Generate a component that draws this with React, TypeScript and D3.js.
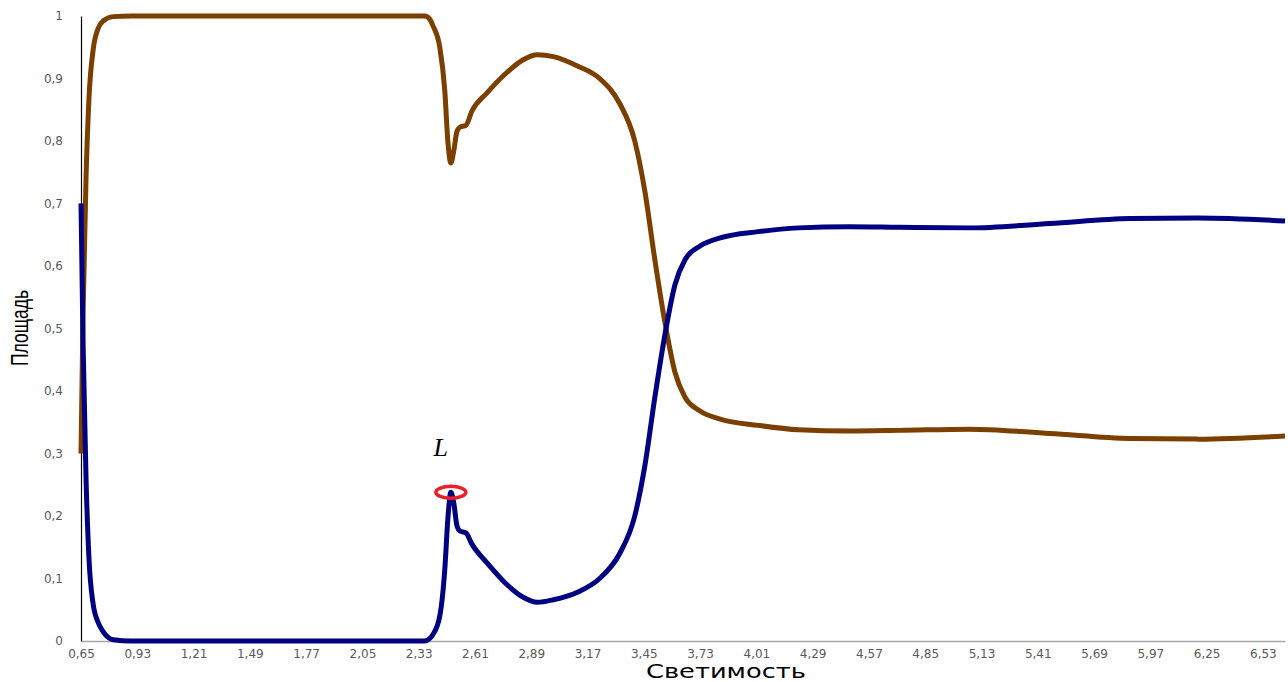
import * as d3 from "d3";
import React, { useEffect, useRef } from "react";

// luminosity values (x) shared by both series
const luminosity = [
  0.65, 0.66, 0.675, 0.69, 0.71, 0.735, 0.76, 0.81, 0.9, 1.5, 2.0, 2.36, 2.385, 2.4,
  2.435, 2.46, 2.475, 2.49, 2.505, 2.52, 2.535, 2.565, 2.595, 2.67, 2.77, 2.85, 2.92,
  3.0, 3.12, 3.23, 3.33, 3.405, 3.455, 3.505, 3.555, 3.605, 3.655, 3.73, 3.83, 4.02,
  4.22, 4.47, 4.72, 5.07, 5.47, 5.87, 6.21, 6.64,
];

const blueArea = [
  0.7, 0.48, 0.26, 0.13, 0.06, 0.03, 0.015, 0.002, 0, 0, 0, 0, 0.004, 0.01,
  0.04, 0.115, 0.195, 0.238, 0.22, 0.185, 0.176, 0.173, 0.155, 0.125, 0.09, 0.07, 0.062,
  0.066, 0.078, 0.1, 0.14, 0.2, 0.28, 0.39, 0.49, 0.57, 0.61, 0.632, 0.645, 0.655,
  0.661, 0.663, 0.662, 0.661, 0.668, 0.676, 0.677, 0.672,
];

const brownArea = [
  0.3, 0.52, 0.74, 0.87, 0.945, 0.98, 0.992, 0.999, 1, 1, 1, 1, 0.995, 0.985,
  0.95, 0.88, 0.8, 0.765, 0.785, 0.815, 0.822, 0.825, 0.848, 0.877, 0.91, 0.93, 0.938,
  0.935, 0.92, 0.9, 0.86, 0.8, 0.72, 0.61, 0.51, 0.43, 0.39, 0.368, 0.355, 0.345,
  0.338, 0.336, 0.337, 0.339, 0.332, 0.324, 0.323, 0.328,
];

const xTicks = [
  0.65, 0.93, 1.21, 1.49, 1.77, 2.05, 2.33, 2.61, 2.89, 3.17, 3.45, 3.73, 4.01, 4.29,
  4.57, 4.85, 5.13, 5.41, 5.69, 5.97, 6.25, 6.53,
];
const yTicks = [0, 0.1, 0.2, 0.3, 0.4, 0.5, 0.6, 0.7, 0.8, 0.9, 1];

// marked point L
const markL = { x: 2.49, y: 0.238, label: "L" };

const App = () => {
  const svgRef = useRef<SVGSVGElement | null>(null);

  useEffect(() => {
    const svg = d3.select(svgRef.current);
    svg.selectAll("*").remove();

    const x = d3.scaleLinear().domain([0.65, 6.64]).range([81, 1285]);
    const y = d3.scaleLinear().domain([0, 1]).range([641, 16]);

    const comma = (d) => String(d).replace(".", ",");

    // x axis
    const gx = svg
      .append("g")
      .attr("transform", "translate(0,641)")
      .call(d3.axisBottom(x).tickValues(xTicks).tickFormat(comma).tickSize(0).tickPadding(8));
    gx.select(".domain").attr("stroke", "#a6a6a6").attr("stroke-width", 1.5);
    gx.selectAll("text")
      .attr("fill", "#595959")
      .style("font-family", "DejaVu Sans, sans-serif")
      .style("font-size", "12px");

    // y axis
    const gy = svg
      .append("g")
      .attr("transform", "translate(81,0)")
      .call(d3.axisLeft(y).tickValues(yTicks).tickFormat(comma).tickSize(0).tickPadding(18));
    gy.select(".domain").attr("stroke", "#000").attr("stroke-width", 1.2);
    gy.selectAll("text")
      .attr("fill", "#595959")
      .style("font-family", "DejaVu Sans, sans-serif")
      .style("font-size", "12px");

    const line = (vals) =>
      d3
        .line<number>()
        .x((d, i) => x(luminosity[i]))
        .y((d) => y(d))
        .curve(d3.curveMonotoneX)(vals);

    svg
      .append("path")
      .attr("d", line(brownArea))
      .attr("fill", "none")
      .attr("stroke", "#7b3f00")
      .attr("stroke-width", 5)
      .attr("stroke-linejoin", "round");

    svg
      .append("path")
      .attr("d", line(blueArea))
      .attr("fill", "none")
      .attr("stroke", "#000080")
      .attr("stroke-width", 5)
      .attr("stroke-linejoin", "round");

    // L marker
    svg
      .append("ellipse")
      .attr("cx", x(markL.x))
      .attr("cy", y(markL.y))
      .attr("rx", 15)
      .attr("ry", 6)
      .attr("fill", "none")
      .attr("stroke", "#e8202a")
      .attr("stroke-width", 3.5);
    svg
      .append("text")
      .attr("x", x(markL.x) - 10)
      .attr("y", y(markL.y) - 36)
      .attr("text-anchor", "middle")
      .style("font-family", "Liberation Serif, serif")
      .style("font-style", "italic")
      .style("font-size", "26px")
      .text(markL.label);

    // axis titles (source image is stretched horizontally)
    svg
      .append("text")
      .attr("x", 646)
      .attr("y", 678)
      .attr("textLength", 160)
      .attr("lengthAdjust", "spacingAndGlyphs")
      .style("font-family", "DejaVu Sans, sans-serif")
      .style("font-size", "20px")
      .text("Светимость");
    svg
      .append("text")
      .attr("transform", "translate(28,366) rotate(-90)")
      .attr("textLength", 76)
      .attr("lengthAdjust", "spacingAndGlyphs")
      .style("font-family", "Liberation Sans, sans-serif")
      .style("font-size", "24px")
      .text("Площадь");
  }, []);

  return (
    <svg
      ref={svgRef}
      width="1288"
      height="682"
      style={{ position: "absolute", left: 0, top: 0, background: "#fff" }}
    ></svg>
  );
};

export default App;
